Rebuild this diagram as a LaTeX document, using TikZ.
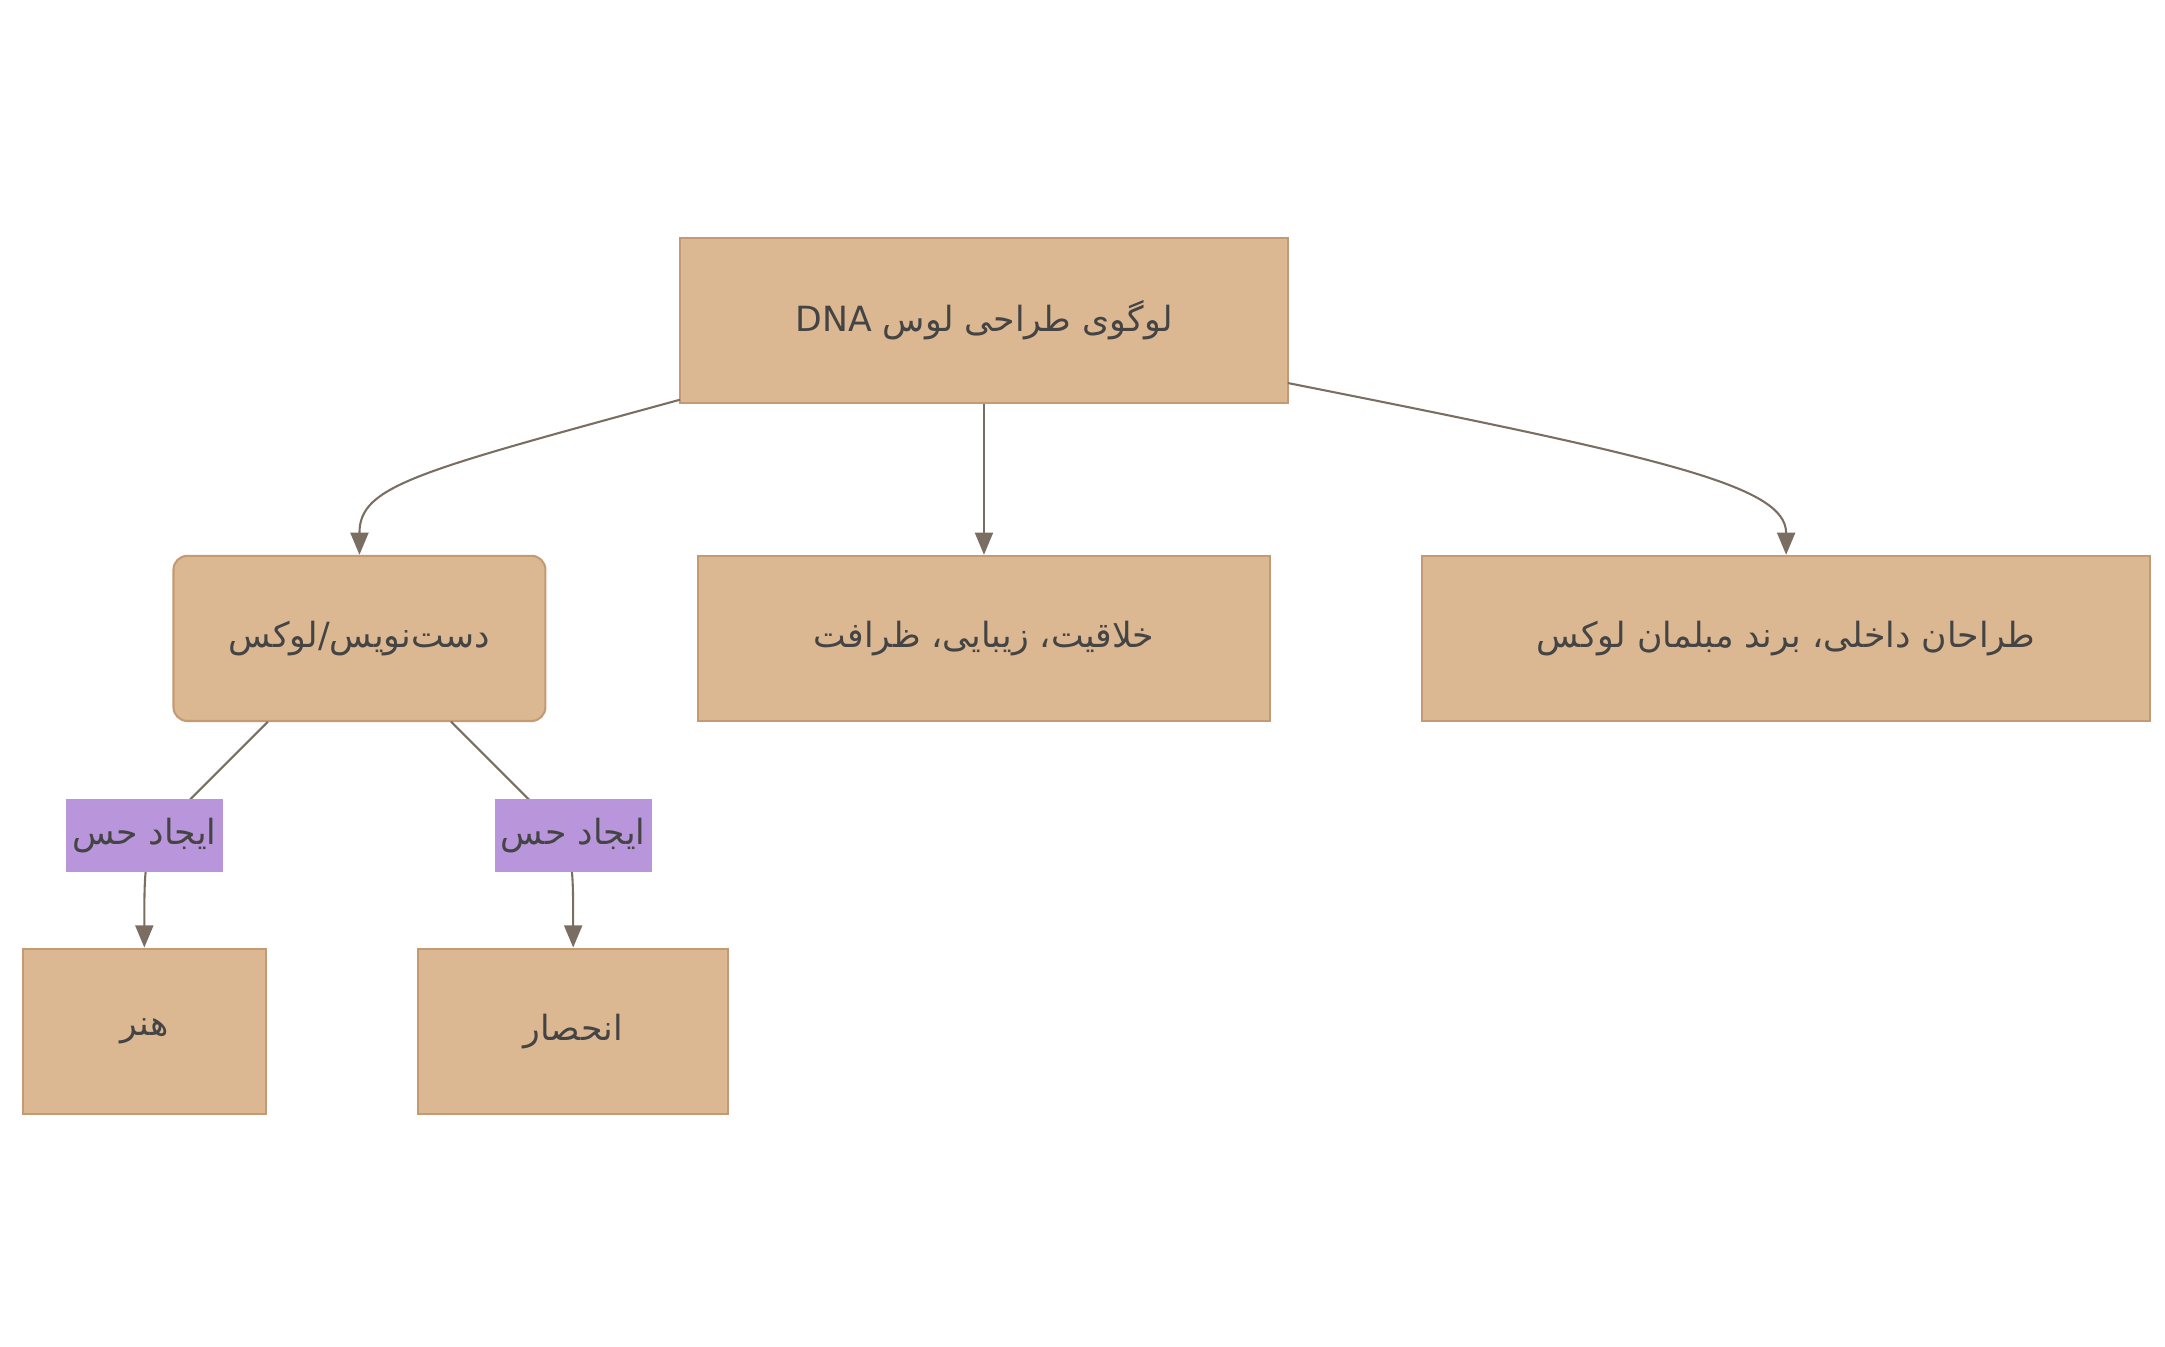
\documentclass[tikz,border=0pt]{standalone}
\usepackage{fontspec}
\TeXXeTstate=1
\newfontfamily\arabicfont[Script=Arabic]{DejaVu Sans}
\usetikzlibrary{arrows.meta}
\definecolor{boxfill}{HTML}{DBB892}
\definecolor{boxdraw}{HTML}{C49A72}
\definecolor{lblfill}{HTML}{B996DB}
\definecolor{edgecol}{HTML}{7A6E62}
\definecolor{txt}{HTML}{444444}
\begin{document}
\begin{tikzpicture}[x=1pt,y=-1pt,
  box/.style={draw=boxdraw,fill=boxfill,line width=1.5pt,minimum height=119pt,text=txt,font=\arabicfont\fontsize{25}{30}\selectfont,inner sep=0pt},
  lbl/.style={fill=lblfill,text=txt,font=\arabicfont\fontsize{25}{30}\selectfont,minimum width=113pt,minimum height=52pt,inner sep=0pt},
  edge/.style={draw=edgecol,line width=1.5pt,-{Triangle[length=16pt,width=13pt]}}]
\useasboundingbox (0,0) rectangle (1560,970);
\node[box,minimum width=438pt] (top) at (709,231) {\beginR لوگوی طراحی لوس \beginL DNA\endL\endR};
\node[box,minimum width=268pt,rounded corners=10pt] (left) at (259,460) {\beginR دست‌نویس/لوکس\endR};
\node[box,minimum width=412pt] (mid) at (709,460) {\beginR خلاقیت، زیبایی، ظرافت\endR};
\node[box,minimum width=525pt] (right) at (1287,460) {\beginR طراحان داخلی، برند مبلمان لوکس\endR};
\node[box,minimum width=175pt] (hnr) at (104,743) {\beginR هنر\endR};
\node[box,minimum width=223pt] (enh) at (413,743) {\beginR انحصار\endR};
\coordinate (t1) at (490,288);
\coordinate (t2) at (928,276);
\coordinate (l1) at (193,520);
\coordinate (l2) at (325,520);
\draw[edge] (t1) .. controls (300,340) and (259,350) .. (left.north);
\draw[edge] (top.south) -- (mid.north);
\draw[edge] (t2) .. controls (1200,330) and (1287,350) .. (right.north);
\draw[edge] (l1) -- (137,576) .. controls (104,610) .. (hnr.north);
\draw[edge] (l2) -- (381,576) .. controls (413,610) .. (enh.north);
\node[lbl] (la) at (104,602) {\beginR ایجاد حس\endR};
\node[lbl] (lb) at (413,602) {\beginR ایجاد حس\endR};
\end{tikzpicture}
\end{document}
